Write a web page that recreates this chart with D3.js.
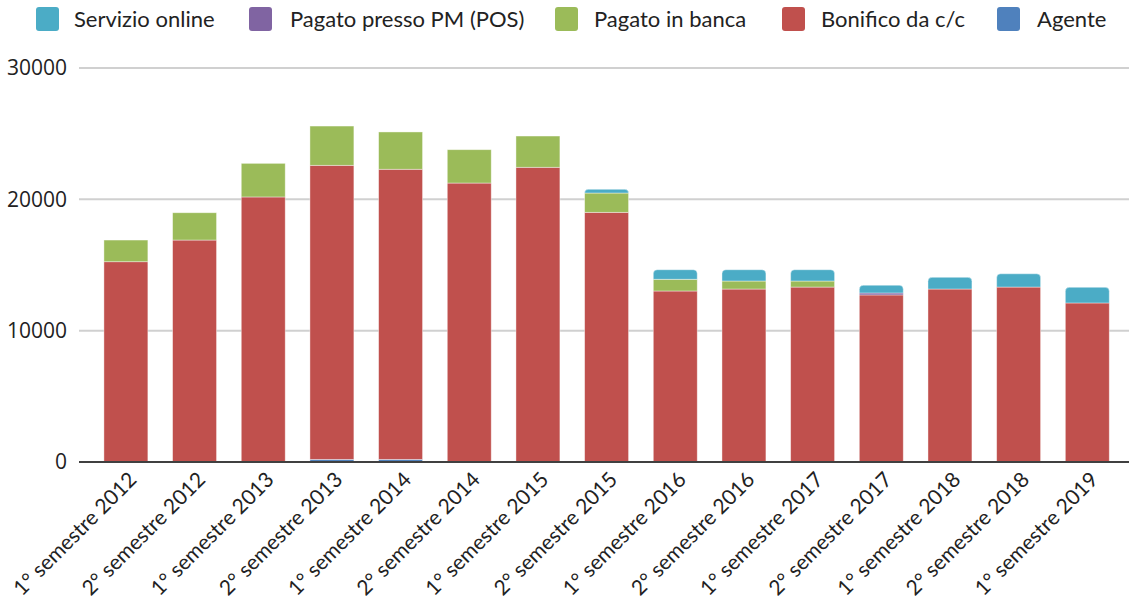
<!DOCTYPE html>
<html><head><meta charset="utf-8">
<script src="https://cdn.jsdelivr.net/npm/d3@7"></script>
<style>
html,body{margin:0;padding:0;background:#fff;}
svg{display:block;}
</style></head>
<body>
<svg id="chart" width="1129" height="612"></svg>
<script>
const categories = ["1° semestre 2012","2° semestre 2012","1° semestre 2013","2° semestre 2013","1° semestre 2014","2° semestre 2014","1° semestre 2015","2° semestre 2015","1° semestre 2016","2° semestre 2016","1° semestre 2017","2° semestre 2017","1° semestre 2018","2° semestre 2018","1° semestre 2019"];
const agente   = [0, 0, 0, 200, 200, 0, 0, 0, 0, 0, 0, 0, 0, 0, 0];
const bonifico = [15250, 16900, 20180, 22390, 22090, 21240, 22440, 19010, 13020, 13170, 13320, 12720, 13170, 13320, 12110];
const banca    = [1650, 2080, 2560, 2990, 2840, 2540, 2380, 1470, 890, 610, 460, 0, 0, 0, 0];
const pos      = [0, 0, 0, 0, 0, 0, 0, 0, 0, 0, 0, 150, 0, 0, 0];
const online   = [0, 0, 0, 0, 0, 0, 0, 280, 730, 860, 860, 590, 890, 1010, 1190];
const yTicks   = [0, 10000, 20000, 30000];

const seriesNames = ["Agente","Bonifico da c/c","Pagato in banca","Pagato presso PM (POS)","Servizio online"];
const seriesData  = [agente, bonifico, banca, pos, online];
const seriesColors = ["#4F81BD","#C0504D","#9BBB59","#8064A2","#4BACC6"];
const legendOrder = [4,3,2,1,0];

const table = categories.map((c,i)=>{
  const row = {cat:c};
  seriesNames.forEach((s,j)=>row[s]=seriesData[j][i]);
  return row;
});

const svg = d3.select("#chart");
const x = d3.scaleBand().domain(categories).range([79.2, 1134]).paddingInner(0.36).paddingOuter(0.36);
const y = d3.scaleLinear().domain([0,30000]).range([462,68]);

// gridlines
svg.append("g").selectAll("line").data(yTicks.filter(d=>d>0)).join("line")
  .attr("x1",79).attr("x2",1129)
  .attr("y1",d=>y(d)).attr("y2",d=>y(d))
  .attr("stroke","#d0d0d0").attr("stroke-width",2);

// y labels
svg.append("g").selectAll("text").data(yTicks).join("text")
  .attr("x",67).attr("y",d=>y(d)).attr("dy","0.35em")
  .attr("text-anchor","end")
  .attr("font-family","Open Sans, sans-serif").attr("font-size",21)
  .attr("fill","#222").text(d=>d);

const stack = d3.stack().keys(seriesNames)(table);

function roundedTop(x0,y0,w,h,r){
  r = Math.min(r,h,w/2);
  return `M${x0},${y0+h}V${y0+r}Q${x0},${y0} ${x0+r},${y0}H${x0+w-r}Q${x0+w},${y0} ${x0+w},${y0+r}V${y0+h}Z`;
}

const bw = x.bandwidth();
stack.forEach((layer,j)=>{
  const g = svg.append("g").attr("fill",seriesColors[j]);
  const dat = layer.map((d,i)=>({d, cat:categories[i]})).filter(o=>o.d[1]-o.d[0]>0);
  if (j===4){
    g.selectAll("path").data(dat).join("path")
      .attr("d",o=>roundedTop(x(o.cat), y(o.d[1]), bw, y(o.d[0])-y(o.d[1]), 4))
      .attr("stroke","#ffffff").attr("stroke-opacity",0.5).attr("stroke-width",0.8);
  } else {
    g.selectAll("rect").data(dat).join("rect")
      .attr("x",o=>x(o.cat)).attr("width",bw)
      .attr("y",o=>y(o.d[1])).attr("height",o=>y(o.d[0])-y(o.d[1]))
      .attr("stroke","#ffffff").attr("stroke-opacity",0.5).attr("stroke-width",0.8);
  }
});

// axis line
svg.append("line").attr("x1",79).attr("x2",1129).attr("y1",y(0)).attr("y2",y(0))
  .attr("stroke","#404040").attr("stroke-width",2);

// x labels
svg.append("g").selectAll("text").data(categories).join("text")
  .attr("transform",d=>`translate(${x(d)+bw/2+12},${481}) rotate(-45)`)
  .attr("text-anchor","end")
  .attr("font-family","Lato, sans-serif").attr("font-size",21)
  .attr("fill","#222").text(d=>d);

// legend
const legX = [36, 249, 555, 782, 997];
const legTextX = [74, 290, 594, 821, 1037];
const lg = svg.append("g");
legendOrder.forEach((si,k)=>{
  lg.append("rect").attr("x",legX[k]).attr("y",7).attr("width",23).attr("height",24).attr("rx",3)
    .attr("fill",seriesColors[si]);
  lg.append("text").attr("x",legTextX[k]).attr("y",19).attr("dy","0.35em")
    .attr("font-family","Lato, sans-serif").attr("font-size",22)
    .attr("fill","#222").text(seriesNames[si]);
});
</script>
</body></html>
